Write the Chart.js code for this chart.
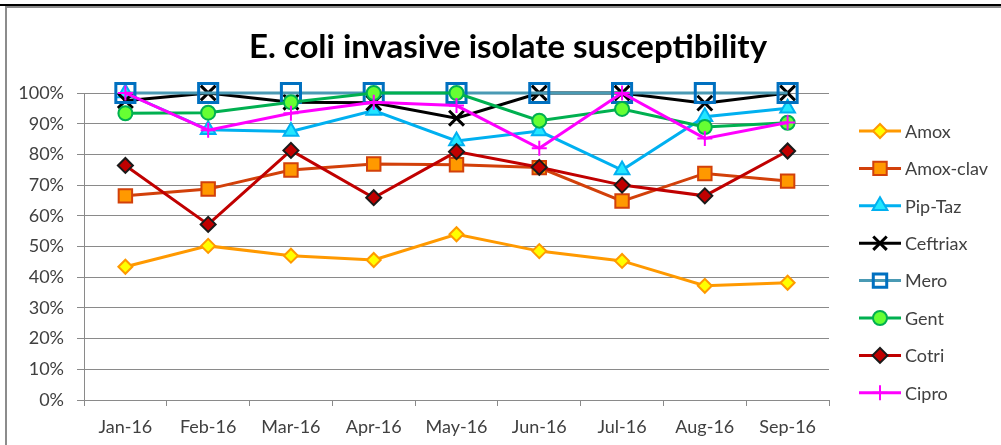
<!DOCTYPE html>
<html>
<head>
<meta charset="utf-8">
<script src="https://cdn.jsdelivr.net/npm/chart.js@4/dist/chart.umd.min.js"></script>
<style>
  html, body { margin: 0; padding: 0; background: #fff; }
  #wrap { position: relative; width: 1001px; height: 445px; }
</style>
</head>
<body>
<div id="wrap"><canvas id="chart" width="1001" height="445"></canvas></div>
<script>
const months = ["Jan-16", "Feb-16", "Mar-16", "Apr-16", "May-16", "Jun-16", "Jul-16", "Aug-16", "Sep-16"];

const amox = [43.4, 50.2, 47.0, 45.6, 54.0, 48.5, 45.3, 37.2, 38.2];
const amoxClav = [66.5, 68.7, 74.9, 76.9, 76.6, 75.7, 64.8, 73.8, 71.3];
const pipTaz = [100, 88.0, 87.5, 94.3, 84.4, 87.6, 74.9, 92.3, 95.0];
const ceftriax = [97.5, 100, 97.0, 96.8, 91.8, 100, 100, 96.7, 100];
const mero = [100, 100, 100, 100, 100, 100, 100, 100, 100];
const gent = [93.4, 93.6, 97.0, 100, 100, 91.0, 94.8, 88.9, 90.3];
const cotri = [76.4, 57.2, 81.3, 65.9, 80.9, 75.8, 70.0, 66.5, 81.1];
const cipro = [100, 87.9, 93.4, 97.0, 95.9, 82.0, 100, 85.2, 90.4];

const yTicks = [0, 10, 20, 30, 40, 50, 60, 70, 80, 90, 100];

const FONT = "Lato";
const TEXT = "#404040";
const GRID = "#8a8a8a";

const series = [
  { label: "Amox", data: amox, line: "#FF9900", fill: "#FFFF00", edge: "#FF9900", style: "rectRot", r: 7, bw: 2 },
  { label: "Amox-clav", data: amoxClav, line: "#D2400A", fill: "#FF9900", edge: "#D2400A", style: "rect", r: 9.5, bw: 2 },
  { label: "Pip-Taz", data: pipTaz, line: "#00B0F0", fill: "#22E6FF", edge: "#00B0F0", style: "triangle", r: 8.5, bw: 2 },
  { label: "Ceftriax", data: ceftriax, line: "#000000", fill: "#000000", edge: "#000000", style: "crossRot", r: 10.5, bw: 3 },
  { label: "Mero", data: mero, line: "#4A9AB4", fill: "rgba(0,0,0,0)", edge: "#0070C0", style: "rect", r: 13.5, bw: 3 },
  { label: "Gent", data: gent, line: "#00B050", fill: "#66FF33", edge: "#00B050", style: "circle", r: 7, bw: 2 },
  { label: "Cotri", data: cotri, line: "#C00000", fill: "#C00000", edge: "#1a1a1a", style: "rectRot", r: 7.5, bw: 2 },
  { label: "Cipro", data: cipro, line: "#FF00FF", fill: "#FF00FF", edge: "#FF00FF", style: "cross", r: 7.5, bw: 2 },
];

const framePlugin = {
  id: "frame",
  beforeDraw(chart) {
    const ctx = chart.ctx;
    ctx.save();
    ctx.fillStyle = "#000";
    ctx.fillRect(0, 4, 1001, 2);
    ctx.fillStyle = "#8c8c8c";
    ctx.fillRect(5, 6, 996, 2);
    ctx.fillRect(5, 6, 2, 439);
    ctx.restore();
  },
  afterDraw(chart) {
    const ctx = chart.ctx;
    ctx.save();
    // title
    ctx.fillStyle = "#000";
    ctx.font = "bold 33px " + FONT;
    ctx.textAlign = "center";
    ctx.textBaseline = "alphabetic";
    ctx.fillText("E. coli invasive isolate susceptibility", 508, 58);
    // legend: line with marker, then label
    ctx.font = "18px " + FONT;
    ctx.textAlign = "left";
    ctx.textBaseline = "middle";
    series.forEach((s, i) => {
      const y = 131 + i * 37.4;
      ctx.strokeStyle = s.line;
      ctx.lineWidth = 3;
      ctx.beginPath();
      ctx.moveTo(859, y);
      ctx.lineTo(901, y);
      ctx.stroke();
      ctx.fillStyle = s.fill;
      ctx.strokeStyle = s.edge;
      ctx.lineWidth = s.bw;
      Chart.helpers.drawPoint(ctx, { pointStyle: s.style, radius: Math.min(s.r, 9.5), borderWidth: s.bw, rotation: 0 }, 880, y);
      ctx.fillStyle = TEXT;
      ctx.fillText(s.label, 905, y + 1);
    });
    ctx.restore();
  },
};

new Chart(document.getElementById("chart"), {
  type: "line",
  data: {
    labels: months,
    datasets: series.map((s, i) => ({
      label: s.label,
      data: s.data,
      borderColor: s.line,
      borderWidth: 3,
      backgroundColor: s.fill,
      pointStyle: s.style,
      pointRadius: s.r,
      pointHoverRadius: s.r,
      pointBackgroundColor: s.fill,
      pointBorderColor: s.edge,
      pointBorderWidth: s.bw,
      tension: 0,
      clip: false,
      order: series.length - i,
    })),
  },
  options: {
    responsive: false,
    animation: false,
    events: [],
    layout: { padding: { left: 0, right: 172, top: 93, bottom: 0 } },
    plugins: {
      legend: { display: false },
      tooltip: { enabled: false },
      title: { display: false },
    },
    scales: {
      x: {
        offset: true,
        grid: { offset: true, drawOnChartArea: false, drawTicks: true, tickLength: 6, color: GRID },
        border: { color: GRID, width: 1 },
        ticks: { color: TEXT, font: { family: FONT, size: 18 }, padding: 10, maxRotation: 0, autoSkip: false },
        afterFit: (s) => { s.height = 45; },
      },
      y: {
        min: 0,
        max: 100,
        afterBuildTicks: (s) => { s.ticks = yTicks.map((v) => ({ value: v })); },
        grid: { color: GRID, tickLength: 7 },
        border: { color: GRID, width: 1 },
        ticks: { color: TEXT, font: { family: FONT, size: 18 }, padding: 13, callback: (v) => v + "%" },
        afterFit: (s) => { s.width = 84; },
      },
    },
  },
  plugins: [framePlugin],
});
</script>
</body>
</html>
